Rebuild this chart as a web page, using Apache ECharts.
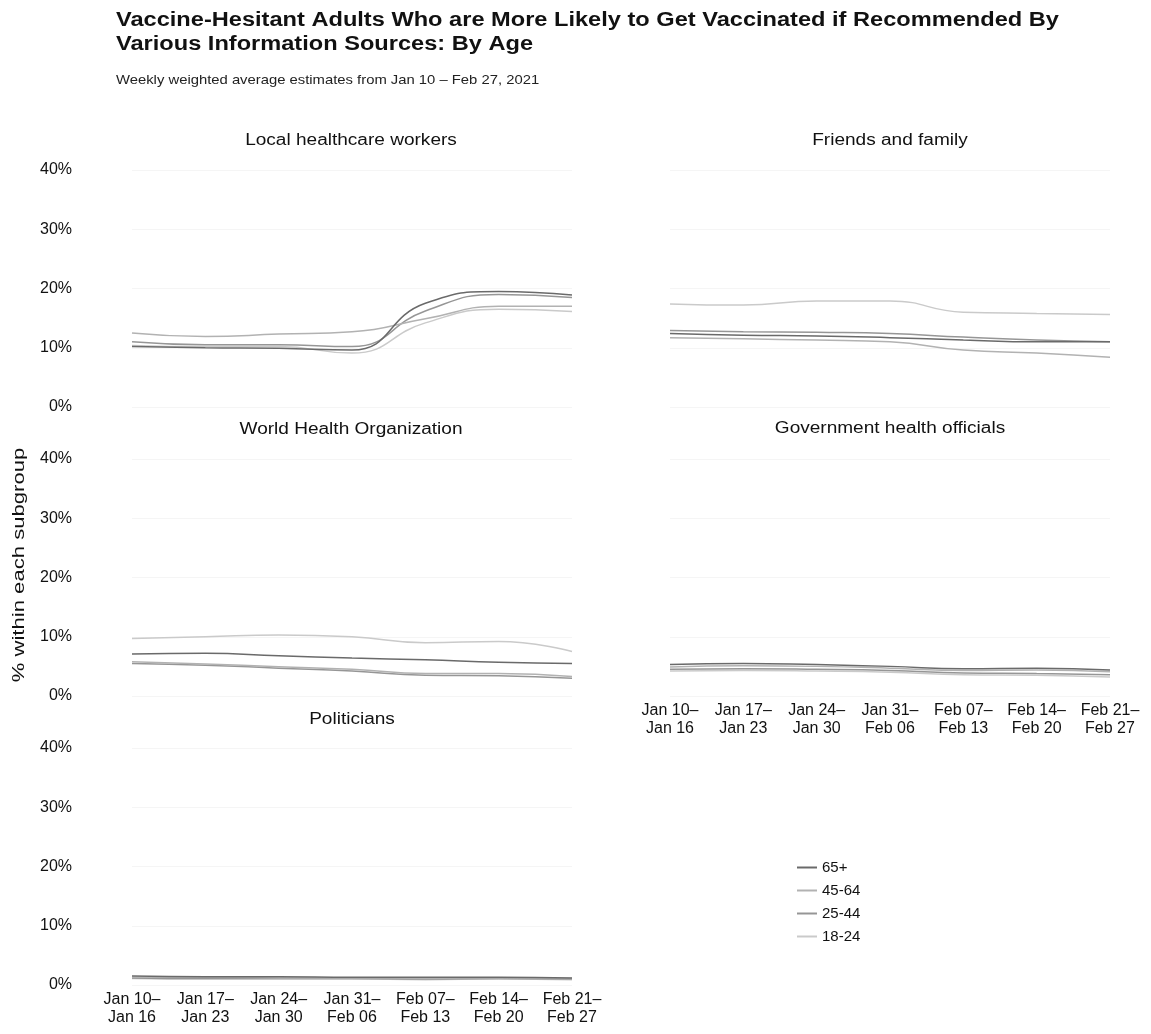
<!DOCTYPE html>
<html>
<head>
<meta charset="utf-8">
<script src="https://cdn.jsdelivr.net/npm/echarts@6/dist/echarts.min.js"></script>
<style>
html,body{margin:0;padding:0;background:#fff;}
#chart{width:1151px;height:1034px;}
</style>
</head>
<body>
<div id="chart"></div>
<script>
// ---- data ----
const weeks = ["Jan 10–\nJan 16","Jan 17–\nJan 23","Jan 24–\nJan 30","Jan 31–\nFeb 06","Feb 07–\nFeb 13","Feb 14–\nFeb 20","Feb 21–\nFeb 27"];
const ageGroups = ["65+","45-64","25-44","18-24"];
const yTicks = [0,10,20,30,40];
const panelTitles = ["Local healthcare workers","Friends and family","World Health Organization","Government health officials","Politicians"];
const mainTitle = "Vaccine-Hesitant Adults Who are More Likely to Get Vaccinated if Recommended By\nVarious Information Sources: By Age";
const subTitle = "Weekly weighted average estimates from Jan 10 – Feb 27, 2021";
const yAxisTitle = "% within each subgroup";

// values in %, order: 65+, 45-64, 25-44, 18-24
const localHealthcare = [
  [10.2, 10.0, 9.9, 9.6, 17.5, 19.5, 18.9],
  [12.5, 11.9, 12.3, 12.7, 14.9, 17.0, 17.0],
  [11.0, 10.5, 10.5, 10.2, 16.2, 19.0, 18.5],
  [10.4, 10.2, 10.2, 9.1, 14.2, 16.5, 16.1]
];
const friendsFamily = [
  [12.4, 12.1, 12.0, 11.7, 11.3, 11.0, 11.0],
  [11.7, 11.5, 11.3, 11.0, 9.6, 9.1, 8.4],
  [12.9, 12.7, 12.6, 12.4, 11.8, 11.3, 11.0],
  [17.4, 17.2, 17.9, 17.9, 16.0, 15.8, 15.6]
];
const who = [
  [7.1, 7.2, 6.8, 6.4, 6.1, 5.7, 5.5],
  [5.8, 5.4, 4.95, 4.5, 3.8, 3.8, 3.3],
  [5.5, 5.2, 4.7, 4.2, 3.5, 3.4, 3.0],
  [9.7, 10.0, 10.3, 10.0, 9.0, 9.2, 7.5]
];
const govOfficials = [
  [5.3, 5.5, 5.3, 5.0, 4.6, 4.7, 4.4],
  [4.9, 5.1, 5.0, 4.7, 4.3, 4.4, 4.1],
  [4.5, 4.6, 4.5, 4.3, 3.9, 3.8, 3.6],
  [4.2, 4.3, 4.2, 4.0, 3.6, 3.5, 3.2]
];
const politicians = [
  [1.5, 1.4, 1.4, 1.3, 1.3, 1.3, 1.2],
  [1.3, 1.3, 1.2, 1.2, 1.2, 1.2, 1.1],
  [1.2, 1.1, 1.1, 1.1, 1.0, 1.1, 1.0],
  [1.1, 1.0, 1.0, 1.0, 0.9, 1.0, 0.9]
];
const panelData = [localHealthcare, friendsFamily, who, govOfficials, politicians];

// ---- layout ----
const FONT = "Liberation Sans, Arial, sans-serif";
const colors = ["#6a6a6a","#b2b2b2","#969696","#cacaca"];
const grids = [
  {left:132, top:170, width:440, height:237},
  {left:670, top:170, width:440, height:237},
  {left:132, top:459, width:440, height:237},
  {left:670, top:459, width:440, height:237},
  {left:132, top:748, width:440, height:237}
];
const showX = [false,false,false,true,true];
const showY = [true,false,true,false,true];

const xAxes = grids.map((g,i)=>({
  type:'category', gridIndex:i, data:weeks, boundaryGap:false,
  axisLine:{show:false}, axisTick:{show:false}, splitLine:{show:false},
  axisLabel:{show:showX[i], interval:0, color:'#111', fontFamily:FONT, fontSize:16, lineHeight:18, margin:6}
}));
const yAxes = grids.map((g,i)=>({
  type:'value', gridIndex:i, min:yTicks[0], max:yTicks[yTicks.length-1], interval:10,
  axisLine:{show:false}, axisTick:{show:false},
  splitLine:{show:true, lineStyle:{color:'#f5f5f5', width:1}},
  axisLabel:{show:showY[i], formatter:'{value}%', color:'#111', fontFamily:FONT, fontSize:16, margin:60}
}));

const series = [];
panelData.forEach((pd,pi)=>{
  pd.forEach((vals,si)=>{
    series.push({
      name:ageGroups[si], type:'line', xAxisIndex:pi, yAxisIndex:pi,
      data:vals, smooth:0.5, showSymbol:false, symbol:'none',
      lineStyle:{color:colors[si], width:1.5}, itemStyle:{color:colors[si]},
      z: 10 - si
    });
  });
});

const panelTitlePos = [[351,141],[890,141],[351,430],[890,429],[352,720]];
const graphics = [
  {type:'text', x:116, y:8, scaleX:1.18,
   style:{text:mainTitle, fontFamily:FONT, fontSize:20, fontWeight:'bold', lineHeight:24, fill:'#111', textAlign:'left', textVerticalAlign:'top'}},
  {type:'text', x:116, y:74, scaleX:1.14,
   style:{text:subTitle, fontFamily:FONT, fontSize:13, lineHeight:13, fill:'#222', textAlign:'left', textVerticalAlign:'top'}},
  {type:'text', x:19, y:565, rotation:Math.PI/2, scaleX:1.3,
   style:{text:yAxisTitle, fontFamily:FONT, fontSize:17, fill:'#111', textAlign:'center', textVerticalAlign:'middle'}}
];
panelTitles.forEach((t,i)=>{
  graphics.push({type:'text', x:panelTitlePos[i][0], y:panelTitlePos[i][1], scaleX:1.19,
    style:{text:t, fontFamily:FONT, fontSize:16, fill:'#111', textAlign:'center', textVerticalAlign:'middle'}});
});

const chart = echarts.init(document.getElementById('chart'), null, {renderer:'canvas'});
chart.setOption({
  backgroundColor:'#ffffff',
  animation:false,
  grid:grids,
  xAxis:xAxes,
  yAxis:yAxes,
  legend:{
    data:ageGroups, orient:'vertical', left:792, top:855,
    icon:'rect', itemWidth:20, itemHeight:2, itemGap:8,
    textStyle:{fontFamily:FONT, fontSize:15, color:'#111'}
  },
  graphic:graphics,
  series:series
});
</script>
</body>
</html>
